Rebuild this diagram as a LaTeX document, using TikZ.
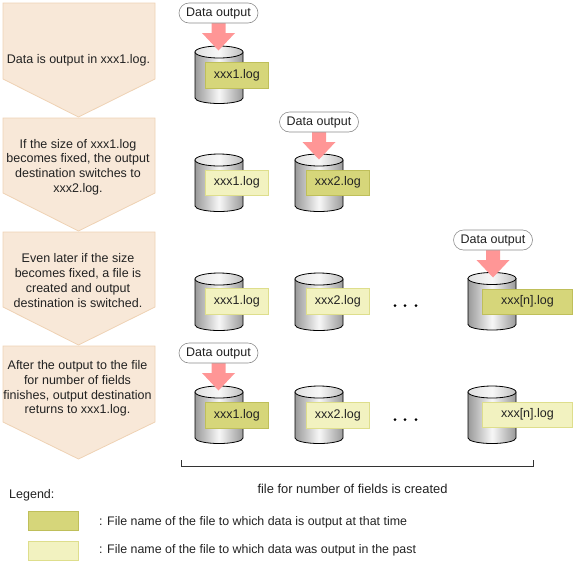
\documentclass[tikz,border=0pt]{standalone}
\usepackage{fontspec}
\setmainfont{Liberation Sans}
\definecolor{penf}{HTML}{F8E8D8}
\definecolor{pend}{HTML}{EFD2B4}
\definecolor{curf}{HTML}{D6D67A}
\definecolor{curd}{HTML}{BFBF5A}
\definecolor{pastf}{HTML}{F2F2C0}
\definecolor{pastd}{HTML}{DEDE8C}
\definecolor{arrowc}{HTML}{FF9696}
\definecolor{txt}{HTML}{222222}
\tikzset{
  x=1pt,y=-1pt,
  every node/.style={font=\fontsize{12.5}{14.7}\selectfont,text=txt},
  pent/.style={fill=penf,draw=pend,line width=0.8pt},
  steptext/.style={align=center,inner sep=0pt},
  curfile/.style={fill=curf,draw=curd,line width=0.8pt,minimum height=25.5,inner sep=0pt,anchor=north west},
  pastfile/.style={fill=pastf,draw=pastd,line width=0.8pt,minimum height=25.5,inner sep=0pt,anchor=north west},
  bubble/.style={draw=black!45,fill=white,rounded corners=10,minimum width=79,minimum height=20,inner sep=0pt,line width=0.6pt},
  plain/.style={inner sep=0pt,anchor=west},
}
\newcommand{\penta}[3]{% top, shoulder, tip
  \draw[pent] (3,#1) -- (155,#1) -- (155,#2) -- (78.5,#3) -- (3,#2) -- cycle;}
\newcommand{\cyl}[2]{% left x, top centre y
  \begin{scope}[shift={(#1,#2)}]
    \shade[left color=black!40,right color=black!40,middle color=black!3,draw=black,line width=0.8pt]
      (0,0) -- (0,46) arc[x radius=24,y radius=5.5,start angle=180,end angle=0] -- (48,0) -- cycle;
    \path[draw=black,line width=0.8pt,left color=black!12,right color=black!25,middle color=black!3]
      (24,0) ellipse[x radius=24,y radius=6];
  \end{scope}}
\newcommand{\dout}[3]{% centre x, bubble centre y, name
  \fill[arrowc] (#1-7,#2+10) -- (#1+7,#2+10) -- (#1+7,#2+20) -- (#1+16.5,#2+20) -- (#1,#2+37.5) -- (#1-16.5,#2+20) -- (#1-7,#2+20) -- cycle;
  \node[bubble] (#3) at (#1,#2) {Data output};}
\begin{document}
\begin{tikzpicture}
\useasboundingbox (0,0) rectangle (575,563);
% steps
\penta{3}{79}{117}
\penta{118}{193}{231}
\penta{232}{307}{345}
\penta{346}{422}{459}
\node[steptext] (s1) at (78.5,60) {Data is output in xxx1.log.};
\node[steptext] (s2) at (78,167) {If the size of xxx1.log\\becomes fixed, the output\\destination switches to\\xxx2.log.};
\node[steptext] (s3) at (78,280.5) {Even later if the size\\becomes fixed, a file is\\created and output\\destination is switched.};
\node[steptext] (s4) at (77.5,388.5) {After the output to the file\\for number of fields\\finishes, output destination\\returns to xxx1.log.};
% row 1
\cyl{195}{52}
\dout{218.5}{13}{d1}
\node[curfile,minimum width=63] (f1) at (205,62) {xxx1.log};
% row 2
\cyl{195}{160}
\node[pastfile,minimum width=63] (f2) at (205,169.5) {xxx1.log};
\cyl{295}{160}
\dout{319}{122}{d2}
\node[curfile,minimum width=63] (f3) at (306,169.5) {xxx2.log};
% row 3
\cyl{195}{279}
\node[pastfile,minimum width=63] (f4) at (205,288) {xxx1.log};
\cyl{295}{279}
\node[pastfile,minimum width=63] (f5) at (306,288) {xxx2.log};
\cyl{468}{278.5}
\dout{493}{240}{d3}
\node[curfile,minimum width=90] (f6) at (482,288.5) {xxx[n].log};
% row 4
\cyl{195}{392}
\dout{218.5}{353}{d4}
\node[curfile,minimum width=63] (f7) at (205,402) {xxx1.log};
\cyl{295}{392}
\node[pastfile,minimum width=63] (f8) at (306,402) {xxx2.log};
\cyl{468}{392}
\node[pastfile,minimum width=90] (f9) at (482,401.5) {xxx[n].log};
% dots
\foreach \xx in {395,405,416}{
  \fill[black] (\xx,305.5) circle (1.5);
  \fill[black] (\xx,419.5) circle (1.5);
}
% bracket
\coordinate (bl) at (181,466);
\coordinate (br) at (533,466);
\draw[black!80,line width=0.8pt] (bl) ++(0,-6) -- (bl) -- (br) -- ++(0,-6);
\node[font=\fontsize{12.9}{15}\selectfont] (bt) at (352.5,489) {file for number of fields is created};
% legend
\node[plain] (lg) at (9,495) {Legend:};
\node[fill=curf,draw=curd,line width=0.8pt,minimum width=50,minimum height=19,inner sep=0pt] (k1) at (53.5,520.5) {};
\node[fill=pastf,draw=pastd,line width=0.8pt,minimum width=50,minimum height=19,inner sep=0pt] (k2) at (53.5,550.5) {};
\node[plain,font=\fontsize{12.4}{15}\selectfont] (t1) at (99,522.5) {: File name of the file to which data is output at that time};
\node[plain,font=\fontsize{12.4}{15}\selectfont] (t2) at (99,550) {: File name of the file to which data was output in the past};
\end{tikzpicture}
\end{document}
